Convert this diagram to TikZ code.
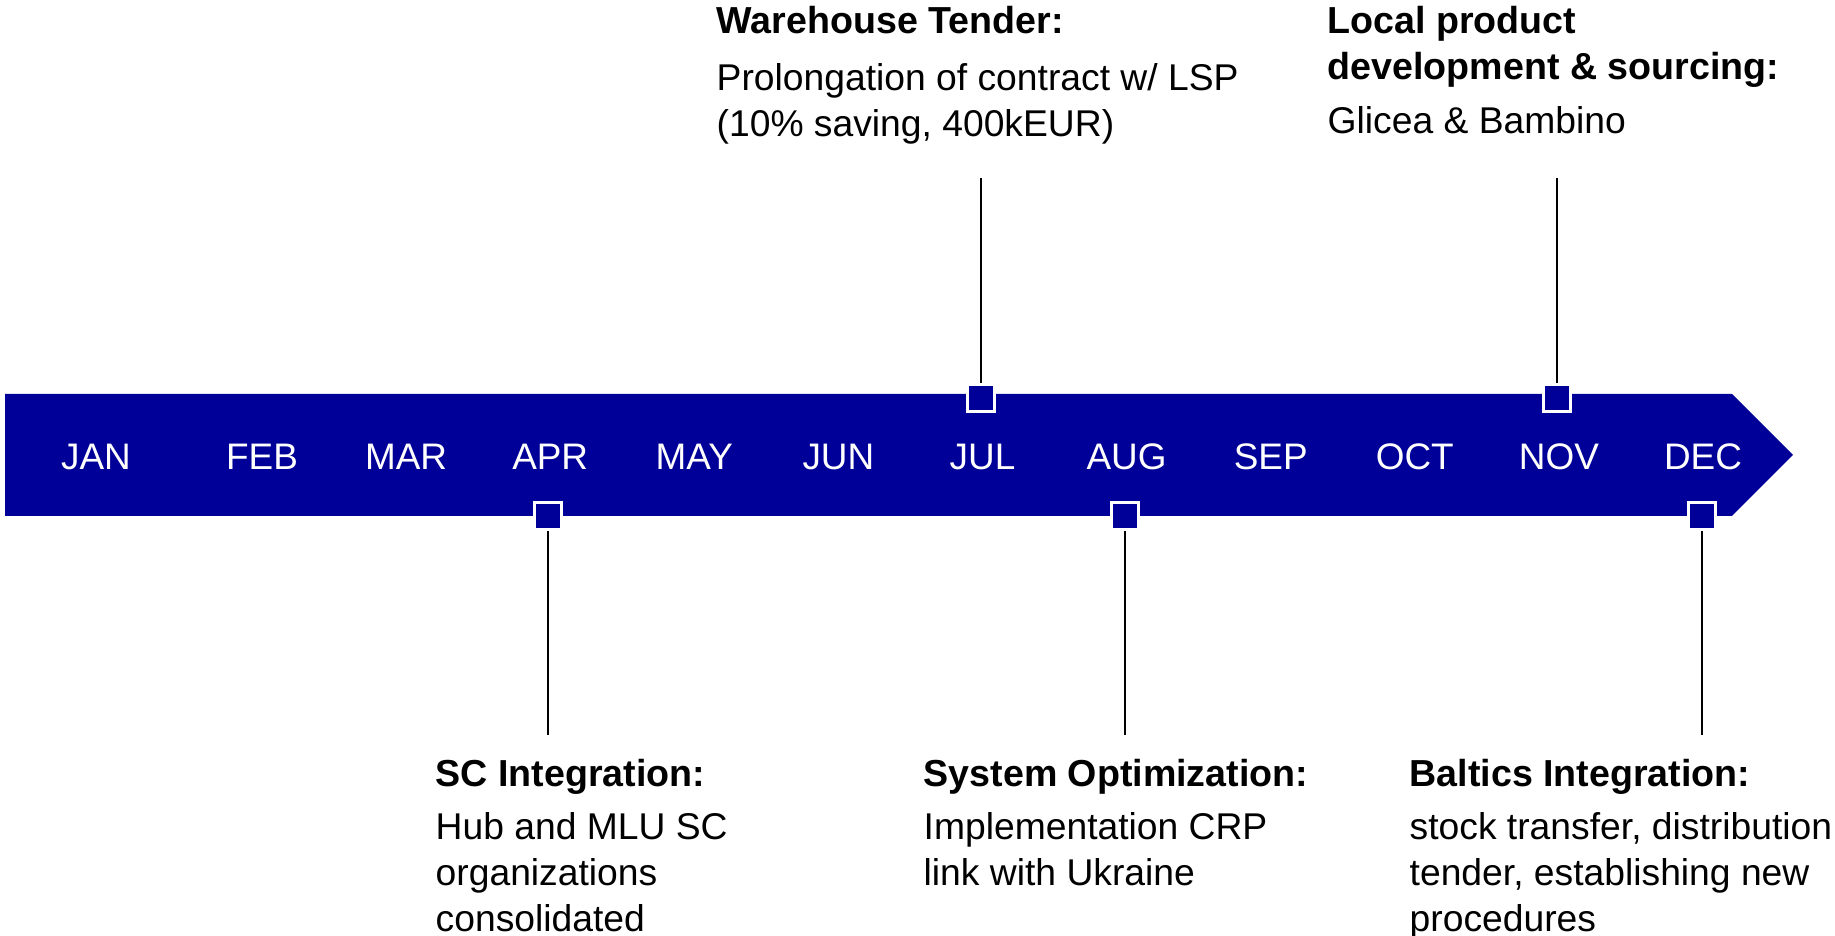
\documentclass[tikz,border=0pt]{standalone}
\usepackage{fontspec}
\setmainfont{Liberation Sans}
\usetikzlibrary{calc}
\definecolor{barblue}{RGB}{0,0,153}

\begin{document}
\begin{tikzpicture}[
    month/.style={text=white, inner sep=0pt, font=\fontsize{10.5}{13.1}\selectfont},
    milestone/.style={draw=white, line width=0.85pt, fill=barblue, minimum size=0.27cm, inner sep=0pt},
    head/.style={anchor=north west, inner sep=0pt, align=left, font=\bfseries\fontsize{10.7}{13.1}\selectfont},
    note/.style={anchor=north west, inner sep=0pt, align=left, font=\fontsize{10.6}{13.1}\selectfont},
    stem/.style={black, line width=0.5pt}
]
\useasboundingbox (0,0) rectangle (18.35,9.36);

% timeline arrow
\fill[barblue] (0.05,4.20) -- (0.05,5.42) -- (17.32,5.42) -- (17.93,4.81) -- (17.32,4.20) -- cycle;

% months
\node[month] (jan) at (0.96,4.79) {JAN};
\foreach \name/\label [count=\i from 0] in {feb/FEB,mar/MAR,apr/APR,may/MAY,jun/JUN,jul/JUL,aug/AUG,sep/SEP,oct/OCT,nov/NOV,dec/DEC}
    \node[month] (\name) at ({2.62+1.441*\i},4.79) {\label};

% milestones
\node[milestone] (julMark) at (9.81,5.38) {};
\node[milestone] (novMark) at (15.57,5.38) {};
\node[milestone] (aprMark) at (5.48,4.20) {};
\node[milestone] (augMark) at (11.25,4.20) {};
\node[milestone] (decMark) at (17.02,4.20) {};

\coordinate (julEnd) at (9.81,7.58);
\coordinate (novEnd) at (15.57,7.58);
\coordinate (aprEnd) at (5.48,2.01);
\coordinate (augEnd) at (11.25,2.01);
\coordinate (decEnd) at (17.02,2.01);

\draw[stem] (julEnd) -- (julMark);
\draw[stem] (novEnd) -- (novMark);
\draw[stem] (aprMark) -- (aprEnd);
\draw[stem] (augMark) -- (augEnd);
\draw[stem] (decMark) -- (decEnd);

% notes above
\node[head] (julHead) at (7.16,9.30) {Warehouse Tender:};
\node[note] (julNote) at (7.16,8.73) {Prolongation of contract w/ LSP\\(10\% saving, 400kEUR)};
\node[head] (novHead) at (13.27,9.30) {Local product\\development \& sourcing:};
\node[note] (novNote) at (13.27,8.30) {Glicea \& Bambino};

% notes below
\node[head] (aprHead) at (4.35,1.77) {SC Integration:};
\node[note] (aprNote) at (4.35,1.24) {Hub and MLU SC\\organizations\\consolidated};
\node[head] (augHead) at (9.23,1.77) {System Optimization:};
\node[note] (augNote) at (9.23,1.24) {Implementation CRP\\link with Ukraine};
\node[head] (decHead) at (14.09,1.77) {Baltics Integration:};
\node[note] (decNote) at (14.09,1.24) {stock transfer, distribution\\tender, establishing new\\procedures};
\end{tikzpicture}
\end{document}
